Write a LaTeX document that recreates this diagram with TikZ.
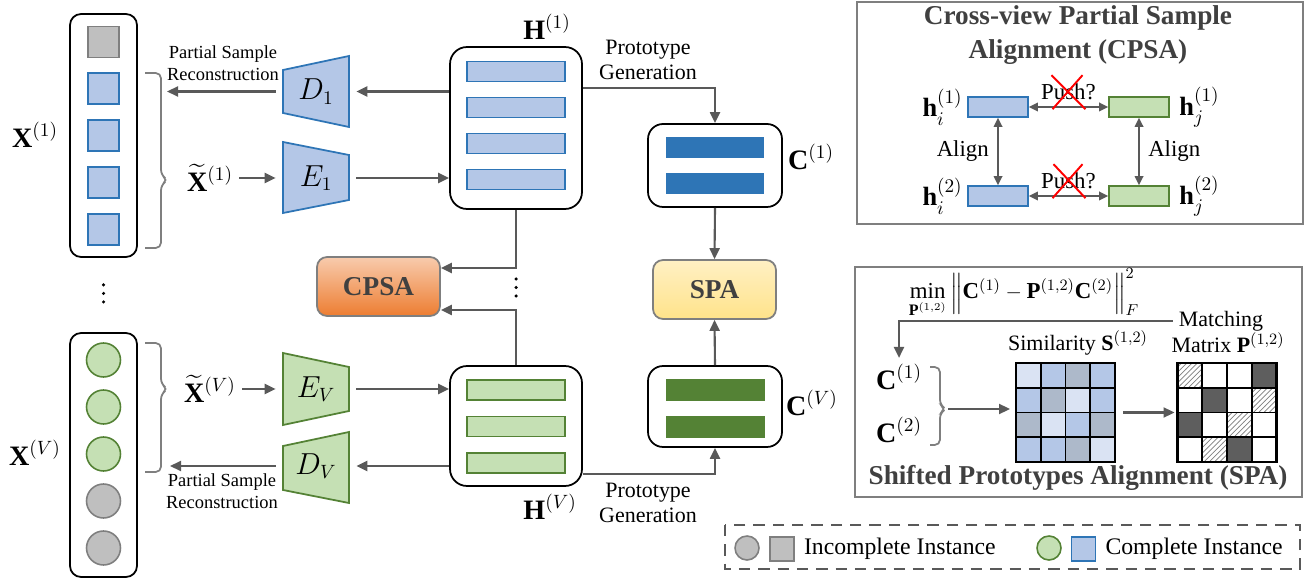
\documentclass[tikz,border=0pt]{standalone}
\usepackage{amsmath}
\usepackage{amssymb}
\usepackage{fontspec}
\setmainfont{Liberation Serif}
\usepackage{xcolor}
\usepackage{tikz}
\usetikzlibrary{arrows.meta,positioning,patterns,calc}

\definecolor{blueFill}{HTML}{B4C7E7}
\definecolor{blueLine}{HTML}{2E75B6}
\definecolor{greenFill}{HTML}{C5E0B4}
\definecolor{greenLine}{HTML}{548235}
\definecolor{grayFill}{HTML}{BFBFBF}
\definecolor{grayLine}{HTML}{7F7F7F}
\definecolor{arrowGray}{HTML}{595959}
\definecolor{titleGray}{HTML}{404040}
\definecolor{orangeTop}{HTML}{F8CBAD}
\definecolor{orangeMid}{HTML}{EE8240}
\definecolor{orangeBot}{HTML}{ED7D31}
\definecolor{yellowTop}{HTML}{FFF0C4}
\definecolor{yellowBot}{HTML}{FFE38A}
\definecolor{simLight}{HTML}{DAE3F3}
\definecolor{simGray}{HTML}{ADB9CA}
\definecolor{darkCell}{HTML}{5E5E5E}

\begin{document}
\begin{tikzpicture}[x=0.02cm, y=-0.02cm,
  arr/.style={draw=arrowGray, line width=1.2pt, -{Triangle[length=2.2mm, width=2mm]}},
  darr/.style={draw=arrowGray, line width=1pt, {Triangle[length=1.8mm, width=1.7mm]}-{Triangle[length=1.8mm, width=1.7mm]}},
  colbox/.style={draw=black, line width=1pt, rounded corners=0.22cm, minimum width=1.34cm, inner sep=0pt},
  featbox/.style={draw=black, line width=1pt, rounded corners=0.34cm, minimum width=2.64cm, inner sep=0pt},
  protobox/.style={draw=black, line width=1pt, rounded corners=0.3cm, minimum width=2.68cm, inner sep=0pt},
  bluesq/.style={draw=blueLine, fill=blueFill, line width=0.9pt, minimum size=0.62cm, inner sep=0pt},
  graysq/.style={draw=grayLine, fill=grayFill, line width=0.9pt, minimum size=0.62cm, inner sep=0pt},
  greendot/.style={circle, draw=greenLine, fill=greenFill, line width=0.9pt, minimum size=0.68cm, inner sep=0pt},
  graydot/.style={circle, draw=grayLine, fill=grayFill, line width=0.9pt, minimum size=0.68cm, inner sep=0pt},
  bluebar/.style={draw=blueLine, fill=blueFill, line width=0.9pt, minimum width=1.96cm, minimum height=0.4cm, inner sep=0pt},
  greenbar/.style={draw=greenLine, fill=greenFill, line width=0.9pt, minimum width=1.96cm, minimum height=0.4cm, inner sep=0pt},
  protoblue/.style={fill=blueLine, minimum width=1.96cm, minimum height=0.42cm, inner sep=0pt},
  protogreen/.style={fill=greenLine, minimum width=1.98cm, minimum height=0.43cm, inner sep=0pt},
  bluetrap/.style={draw=blueLine, fill=blueFill, line width=1pt},
  greentrap/.style={draw=greenLine, fill=greenFill, line width=1pt},
  coder/.style={minimum width=1.6cm, minimum height=0.9cm, inner sep=0pt, font=\fontsize{16}{18}\selectfont},
  modbox/.style={draw=grayLine, line width=1pt, rounded corners=0.2cm, minimum width=2.46cm, minimum height=1.18cm, font=\fontsize{15.5}{18}\selectfont\bfseries, text=titleGray},
  bigmath/.style={font=\fontsize{16}{18}\selectfont},
  hlbl/.style={font=\fontsize{15}{17}\selectfont, inner sep=1pt},
  smallnote/.style={font=\fontsize{10.5}{12.5}\selectfont, align=center},
  pgnote/.style={font=\fontsize{12.5}{14.5}\selectfont, align=center},
  pushtxt/.style={font=\fontsize{13}{15}\selectfont},
  legtxt/.style={font=\fontsize{13.5}{16}\selectfont},
  fmla/.style={font=\fontsize{13}{15}\selectfont},
  brc/.style={draw=grayLine, line width=1pt, rounded corners=3pt},
  panel/.style={draw=grayLine, line width=1.2pt},
  paneltitle/.style={font=\fontsize{15.5}{19.3}\selectfont\bfseries, text=titleGray, align=center},
  redx/.style={draw=red, line width=1.1pt},
  cellgrid/.style={draw=black, line width=1pt}
]
  \useasboundingbox (0,0) rectangle (1307,580);

  \node[colbox, minimum height=4.86cm] (col1) at (103.5,135.5) {};
  \node[graysq] (s0) at (103.5,42) {};
  \foreach \yy [count=\k] in {88.5,135.5,182.5,229.5}
    \node[bluesq] (s\k) at (103.5,\yy) {};
  \node[bigmath] (X1) at (35,135) {$\mathbf{X}^{(1)}$};
  \draw[brc] (145,73) -- (161,73) -- (161,175) -- (168,180) -- (161,185) -- (161,248) -- (145,248);
  \node[bigmath] (Xt1) at (210,178) {$\widetilde{\mathbf{X}}^{(1)}$};
  \draw[bluetrap] (283,70) -- (349,56) -- (349,127) -- (283,113) -- cycle;
  \node[coder] (D1) at (316,91.5) {$D_1$};
  \draw[bluetrap] (283,142) -- (349,155) -- (349,200) -- (283,213) -- cycle;
  \node[coder] (E1) at (316,178) {$E_1$};
  \node[featbox, minimum height=3.24cm] (H1) at (516,128) {};
  \foreach \yy [count=\k] in {71.5,107.5,143.5,179.5}
    \node[bluebar] (hb\k) at (516,\yy) {};
  \node[bigmath] (H1lbl) at (547,27) {$\mathbf{H}^{(1)}$};
  \node[protobox, minimum height=1.66cm] (C1) at (715,165.5) {};
  \node[protoblue] (cb1) at (715,147.5) {};
  \node[protoblue] (cb2) at (715,183.5) {};
  \node[bigmath] (C1lbl) at (811,157) {$\mathbf{C}^{(1)}$};

  \node[colbox, minimum height=4.88cm] (colV) at (103.5,455) {};
  \foreach \yy [count=\k] in {360,407,454}
    \node[greendot] (g\k) at (103.5,\yy) {};
  \foreach \yy [count=\k] in {501,548}
    \node[graydot] (q\k) at (103.5,\yy) {};
  \node[bigmath] (XV) at (35,453) {$\mathbf{X}^{(V)}$};
  \draw[brc] (145,343) -- (161,343) -- (161,384) -- (168,389) -- (161,394) -- (161,472) -- (145,472);
  \node[bigmath] (XtV) at (210,389) {$\widetilde{\mathbf{X}}^{(V)}$};
  \draw[greentrap] (283,353) -- (349,367) -- (349,411) -- (283,425) -- cycle;
  \node[coder] (EV) at (316,389) {$E_V$};
  \draw[greentrap] (283,446) -- (349,432) -- (349,503) -- (283,490) -- cycle;
  \node[coder] (DV) at (316,466) {$D_V$};
  \node[featbox, minimum height=2.4cm] (HV) at (516,426) {};
  \foreach \yy [count=\k] in {390,426.5,463}
    \node[greenbar] (gb\k) at (516,\yy) {};
  \node[bigmath] (HVlbl) at (550,507) {$\mathbf{H}^{(V)}$};
  \node[protobox, minimum height=1.62cm] (CV) at (715,406.5) {};
  \node[protogreen] (cg1) at (715,390) {};
  \node[protogreen] (cg2) at (715,427) {};
  \node[bigmath] (CVlbl) at (812,403) {$\mathbf{C}^{(V)}$};

  \node[modbox, top color=orangeTop, middle color=orangeMid, bottom color=orangeBot] (CPSA) at (378.5,286.5) {CPSA};
  \node[modbox, top color=yellowTop, bottom color=yellowBot] (SPA) at (714.5,289.5) {SPA};
  \foreach \yy in {285,293.5,302}
    \fill (103.5,\yy) circle (0.035cm);
  \foreach \yy in {279,287.5,296}
    \fill (516,\yy) circle (0.035cm);

  \coordinate (rec1) at (167,91.5);
  \coordinate (recV) at (170,466);
  \draw[arr] (Xt1.east) -- (Xt1.east -| E1.west);
  \draw[arr] (E1.east) -- (E1 -| H1.west);
  \draw[arr] (D1 -| H1.west) -- (D1.east);
  \draw[arr] (D1.west) -- (rec1);
  \node[smallnote] (psr1) at (223,63) {Partial Sample\\Reconstruction};
  \draw[arr] ([yshift=0.8cm]H1.east) -| (C1.north);
  \node[pgnote] (pg1) at (648,60) {Prototype\\Generation};
  \draw[arr] (C1.south) -- (SPA.north);
  \draw[arr] (H1.south) |- ([yshift=0.37cm]CPSA.east);
  \draw[arr] (HV.north) |- ([yshift=-0.47cm]CPSA.east);
  \draw[arr] (CV.north) -- (SPA.south);
  \draw[arr] ([yshift=-0.96cm]HV.east) -| (CV.south);
  \node[pgnote] (pgV) at (648,503) {Prototype\\Generation};
  \draw[arr] (XtV.east) -- (XtV.east -| EV.west);
  \draw[arr] (EV.east) -- (EV -| HV.west);
  \draw[arr] (DV -| HV.west) -- (DV.east);
  \draw[arr] (DV.west) -- (recV);
  \node[smallnote] (psrV) at (222,491) {Partial Sample\\Reconstruction};

  \draw[panel] (857,2) rectangle (1303,224);
  \node[paneltitle] (cpsaT) at (1078,35) {Cross-view Partial Sample\\Alignment (CPSA)};
  \node[bluebar, minimum width=1.2cm] (hi1) at (998,107) {};
  \node[greenbar, minimum width=1.2cm] (hj1) at (1139,107) {};
  \node[bluebar, minimum width=1.2cm] (hi2) at (998,196) {};
  \node[greenbar, minimum width=1.2cm] (hj2) at (1139,196) {};
  \node[hlbl, left=0.05cm of hi1] (hi1lbl) {$\mathbf{h}_i^{(1)}$};
  \node[hlbl, right=0.15cm of hj1] (hj1lbl) {$\mathbf{h}_j^{(1)}$};
  \node[hlbl, left=0.05cm of hi2] (hi2lbl) {$\mathbf{h}_i^{(2)}$};
  \node[hlbl, right=0.15cm of hj2] (hj2lbl) {$\mathbf{h}_j^{(2)}$};
  \draw[darr] (hi1.east) -- (hj1.west) node[midway, above, pushtxt] (push1) {Push?};
  \draw[darr] (hi2.east) -- (hj2.west) node[midway, above, pushtxt] (push2) {Push?};
  \draw[redx] ([shift={(-17,-17)}]push1.center) -- ([shift={(17,17)}]push1.center);
  \draw[redx] ([shift={(14,-17)}]push1.center) -- ([shift={(-16,17)}]push1.center);
  \draw[redx] ([shift={(-15,-17)}]push2.center) -- ([shift={(17,17)}]push2.center);
  \draw[redx] ([shift={(14,-17)}]push2.center) -- ([shift={(-16,17)}]push2.center);
  \draw[darr] (hi1.south) -- (hi2.north) node[midway, left=0.05cm, pushtxt] (al1) {Align};
  \draw[darr] (hj1.south) -- (hj2.north) node[midway, right=0.05cm, pushtxt] (al2) {Align};

  \draw[panel] (855,267) rectangle (1302,497);
  \node[fmla] (obj) at (1024,293) {$\displaystyle\min_{\mathbf{P}^{(1,2)}} \left\|\mathbf{C}^{(1)}-\mathbf{P}^{(1,2)}\mathbf{C}^{(2)}\right\|_F^2$};
  \node[pgnote] (matchTxt) at (1221,321) {Matching};
  \node[pgnote] (matrixTxt) at (1228,343) {Matrix $\mathbf{P}^{(1,2)}$};
  \node[pgnote] (simTxt) at (1078,343) {Similarity $\mathbf{S}^{(1,2)}$};
  \node[bigmath] (cs1) at (899,377) {$\mathbf{C}^{(1)}$};
  \node[bigmath] (cs2) at (899,430) {$\mathbf{C}^{(2)}$};
  \draw[arr] (matchTxt.west) -| (cs1.north);
  \draw[brc] (930,367) -- (940,367) -- (940,405) -- (946,409) -- (940,413) -- (940,445) -- (930,445);
  \coordinate (csTip) at (948,409);
  \node[inner sep=0pt, outer sep=0pt, minimum size=1.98cm] (simM) at (1065.5,412.5) {};
  \foreach \cx/\cy/\cc in {0/0/simLight,1/0/blueFill,2/0/simGray,3/0/blueFill,
                           0/1/blueFill,1/1/simGray,2/1/simLight,3/1/blueFill,
                           0/2/simGray,1/2/simLight,2/2/blueFill,3/2/simGray,
                           0/3/blueFill,1/3/blueFill,2/3/simGray,3/3/simLight}
    \filldraw[fill=\cc, cellgrid] ($(simM.north west)+(\cx*24.75,\cy*24.75)$) rectangle ++(24.75,24.75);
  \draw[line width=1.5pt] (simM.north west) rectangle (simM.south east);
  \draw[arr, shorten >=0.12cm] (csTip) -- (csTip -| simM.west);
  \node[inner sep=0pt, outer sep=0pt, minimum size=1.98cm, fill=white] (matM) at (1227,412.5) {};
  \foreach \cx/\cy in {3/0,1/1,0/2,2/3}
    \fill[darkCell] ($(matM.north west)+(\cx*24.75,\cy*24.75)$) rectangle ++(24.75,24.75);
  \foreach \cx/\cy in {0/0,3/1,2/2,1/3}
    \fill[pattern=north east lines, pattern color=grayLine] ($(matM.north west)+(\cx*24.75,\cy*24.75)$) rectangle ++(24.75,24.75);
  \foreach \k in {1,2,3} {
    \draw[cellgrid] ($(matM.north west)+(\k*24.75,0)$) -- ++(0,99);
    \draw[cellgrid] ($(matM.north west)+(0,\k*24.75)$) -- ++(99,0);
  }
  \draw[line width=1.5pt] (matM.north west) rectangle (matM.south east);
  \draw[arr, shorten <=0.16cm, shorten >=0.06cm] (simM.east) -- (matM.west);
  \node[paneltitle] (spaT) at (1078,478) {Shifted Prototypes Alignment (SPA)};

  \draw[draw=arrowGray, line width=1pt, dash pattern=on 6.5pt off 4.5pt] (725,525) rectangle (1300,569);
  \node[graydot, minimum size=0.48cm] (lg1) at (747,548) {};
  \node[graysq, minimum size=0.48cm] (lg2) at (782,549) {};
  \node[legtxt, right=0.06cm of lg2] (lg3) {Incomplete Instance};
  \node[greendot, minimum size=0.48cm] (lg4) at (1049,548) {};
  \node[bluesq, minimum size=0.48cm] (lg5) at (1083.5,549) {};
  \node[legtxt, right=0.06cm of lg5] (lg6) {Complete Instance};
\end{tikzpicture}
\end{document}
